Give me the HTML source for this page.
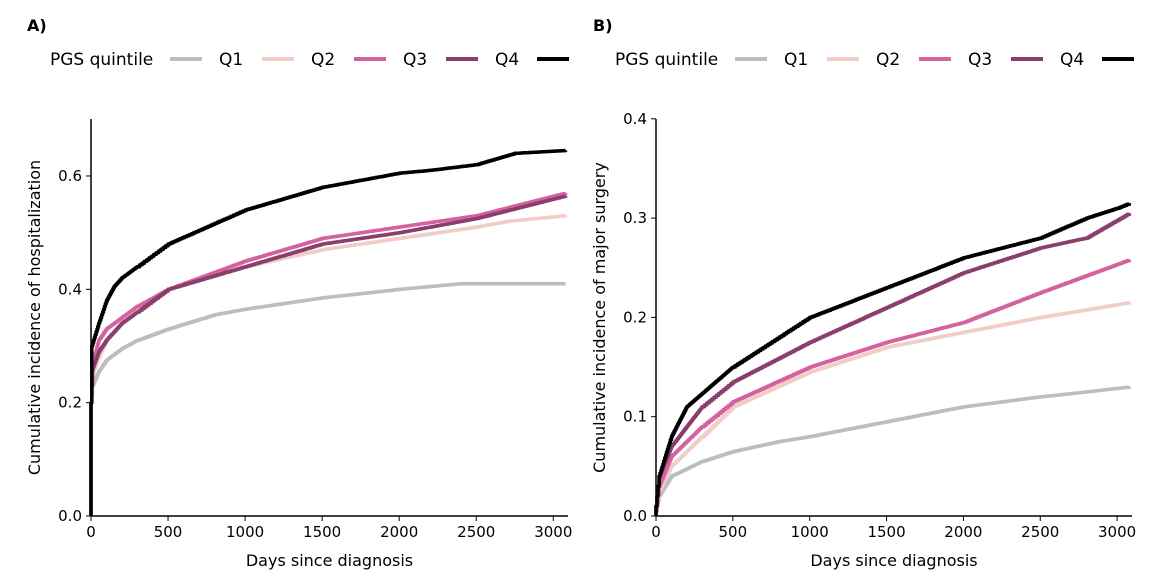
<!DOCTYPE html>
<html><head><meta charset="utf-8"><style>
body{margin:0;background:#fff;}
svg text{font-family:"DejaVu Sans","Liberation Sans",sans-serif;fill:#000;}
</style></head><body>
<svg id="s" width="1154" height="576" xmlns="http://www.w3.org/2000/svg">
<text x="27" y="31" font-size="16" font-weight="bold">A)</text>
<text x="593" y="31" font-size="16" font-weight="bold">B)</text>
<g id="g"></g>
</svg>
<script>
const g=document.getElementById('g');let h='';
const cols=['#bdbdbd','#f0cdc6','#d4629f','#8a3e6e','#000'];
function legend(ox){
 h+=`<text x="${ox+50}" y="65" font-size="17">PGS quintile</text>`;
 const sw=[170,262,354,446,537],tx=[219,311,403,495];
 sw.forEach((s,i)=>{h+=`<line x1="${ox+s}" x2="${ox+s+32}" y1="59" y2="59" stroke="${cols[i]}" stroke-width="4"/>`;});
 tx.forEach((t,i)=>{h+=`<text x="${ox+t}" y="65" font-size="17">Q${i+1}</text>`;});
}
legend(0);legend(565);
function panel(x0,xend,y0,ytop,xs,ys,yticks,yfmt,ylabel,data){
 h+=`<line x1="${x0}" y1="${y0}" x2="${xend}" y2="${y0}" stroke="#000" stroke-width="1.5"/>`;
 h+=`<line x1="${x0}" y1="${y0}" x2="${x0}" y2="${ytop}" stroke="#000" stroke-width="1.5"/>`;
 [0,500,1000,1500,2000,2500,3000].forEach(d=>{const x=x0+d*xs;h+=`<line x1="${x}" x2="${x}" y1="${y0}" y2="${y0+5}" stroke="#000"/><text x="${x}" y="${y0+21}" font-size="15" text-anchor="middle">${d}</text>`;});
 yticks.forEach(v=>{const y=y0-v*ys;h+=`<line x1="${x0-5}" x2="${x0}" y1="${y}" y2="${y}" stroke="#000"/><text x="${x0-9}" y="${y+5}" font-size="15" text-anchor="end">${v.toFixed(yfmt)}</text>`;});
 h+=`<text x="${(x0+xend)/2}" y="566" font-size="16" text-anchor="middle">Days since diagnosis</text>`;
 h+=`<text transform="translate(${x0-51},${(y0+ytop)/2}) rotate(-90)" font-size="16" text-anchor="middle">${ylabel}</text>`;
 data.forEach((pts,i)=>{
  let q='';
  for(let k=0;k<pts.length-1;k++){const[a,va]=pts[k],[b,vb]=pts[k+1];const st=a<300?6:15;const n=Math.max(1,Math.round((b-a)/st));
   for(let j=0;j<n;j++){const d1=a+(b-a)*j/n,d2=a+(b-a)*(j+1)/n,v=va+(vb-va)*j/n;q+=`${(x0+d1*xs).toFixed(1)},${(y0-v*ys).toFixed(1)} ${(x0+d2*xs).toFixed(1)},${(y0-v*ys).toFixed(1)} `;}}
  const l=pts[pts.length-1];q+=`${(x0+l[0]*xs).toFixed(1)},${(y0-l[1]*ys).toFixed(1)}`;
  h+=`<polyline points="${x0},${y0} ${q}" fill="none" stroke="${cols[i]}" stroke-width="3.5" stroke-linejoin="round"/>`;
 });
}
panel(91,568,516,119,0.1541,566.7,[0,0.2,0.4,0.6],1,'Cumulative incidence of hospitalization',[
 [[0,0.2],[10,0.23],[50,0.255],[100,0.275],[200,0.295],[300,0.31],[500,0.33],[800,0.355],[1000,0.365],[1500,0.385],[2000,0.40],[2400,0.41],[3080,0.41]],
 [[0,0.2],[10,0.25],[50,0.28],[100,0.31],[200,0.34],[300,0.36],[500,0.40],[1000,0.44],[1500,0.47],[2000,0.49],[2500,0.51],[2700,0.52],[3080,0.53]],
 [[0,0.2],[10,0.27],[50,0.31],[100,0.33],[200,0.35],[300,0.37],[500,0.40],[1000,0.45],[1500,0.49],[2000,0.51],[2500,0.53],[3080,0.57]],
 [[0,0.2],[10,0.26],[50,0.29],[100,0.31],[200,0.34],[300,0.36],[500,0.40],[1000,0.44],[1500,0.48],[2000,0.50],[2500,0.525],[3080,0.565]],
 [[0,0.2],[5,0.3],[50,0.34],[100,0.38],[150,0.405],[200,0.42],[300,0.44],[500,0.48],[1000,0.54],[1500,0.58],[2000,0.605],[2200,0.61],[2500,0.62],[2750,0.64],[3080,0.645]]
]);
panel(656,1132,516,119,0.1537,993,[0,0.1,0.2,0.3,0.4],1,'Cumulative incidence of major surgery',[
 [[0,0.005],[20,0.02],[100,0.04],[300,0.055],[500,0.065],[800,0.075],[1000,0.08],[1500,0.095],[2000,0.11],[2500,0.12],[2800,0.125],[3080,0.13]],
 [[0,0.005],[20,0.025],[100,0.05],[300,0.08],[500,0.11],[1000,0.145],[1500,0.17],[2000,0.185],[2500,0.20],[2700,0.205],[3080,0.215]],
 [[0,0.005],[20,0.03],[100,0.06],[300,0.09],[500,0.115],[1000,0.15],[1500,0.175],[2000,0.195],[2500,0.225],[3080,0.258]],
 [[0,0.01],[20,0.04],[100,0.07],[300,0.11],[500,0.135],[1000,0.175],[1500,0.21],[2000,0.245],[2500,0.27],[2800,0.28],[3080,0.305]],
 [[0,0.01],[20,0.04],[100,0.08],[200,0.11],[500,0.15],[1000,0.20],[1500,0.23],[2000,0.26],[2500,0.28],[2800,0.30],[3000,0.31],[3080,0.315]]
]);
g.innerHTML=h;
</script>
</body></html>
